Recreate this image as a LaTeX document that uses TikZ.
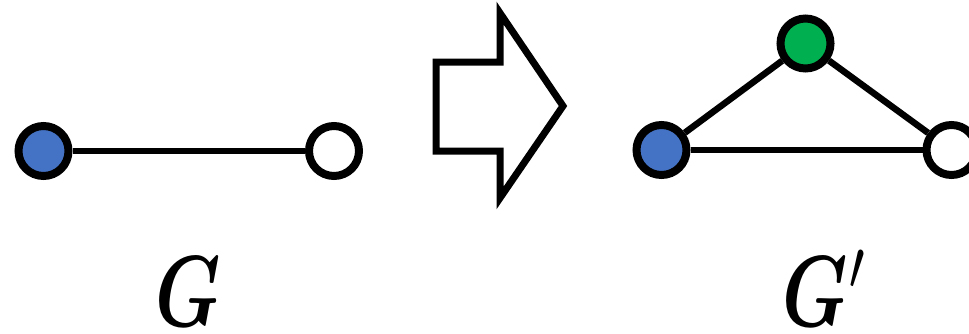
\documentclass[tikz,border=0pt]{standalone}
\usepackage{bm}
\definecolor{vblue}{HTML}{4472C4}
\definecolor{vgreen}{HTML}{00B050}
\begin{document}
\begin{tikzpicture}[x=1pt,y=1pt,
  vertex/.style={circle,draw=black,line width=8pt,minimum size=50pt,inner sep=0pt},
  edge/.style={line width=6.5pt,black},
  glabel/.style={anchor=base,inner sep=0pt}]
\useasboundingbox (0,0) rectangle (969,333);
% left graph G
\node[vertex,fill=vblue] (a1) at (43.5,182) {};
\node[vertex,fill=white] (b1) at (334,182) {};
\draw[edge] (a1) -- (b1);
% block arrow
\draw[line width=7pt,miter limit=10,fill=white]
  (436,271) -- (500,271) -- (500,320) -- (563,227) -- (500,135) -- (500,182) -- (436,182) -- cycle;
% right graph G'
\node[vertex,fill=vblue] (a2) at (661.5,183) {};
\node[vertex,fill=vgreen] (c2) at (805.5,289.5) {};
\node[vertex,fill=white] (b2) at (951.5,183) {};
\draw[edge] (a2) -- (c2);
\draw[edge] (c2) -- (b2);
\draw[edge] (a2) -- (b2);
% labels
\node[glabel] (lg) at (188,7) {\scalebox{7.4}[10.1]{$\bm{G}$}};
\node[glabel] (lg2) at (826,7) {\scalebox{7.4}[10.1]{$\bm{G}'$}};
\end{tikzpicture}
\end{document}
